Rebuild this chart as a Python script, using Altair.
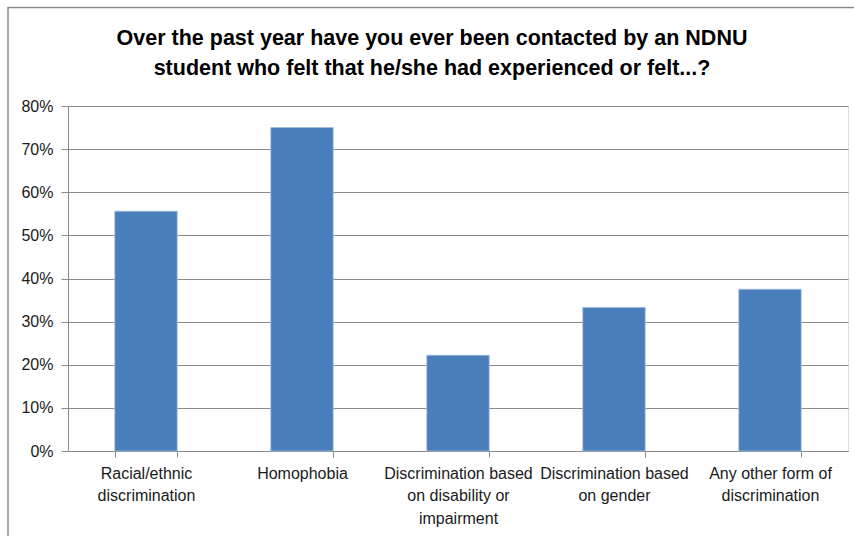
import altair as alt
import pandas as pd

# Survey responses: share of respondents contacted about each issue
categories = [
    "Racial/ethnic discrimination",
    "Homophobia",
    "Discrimination based on disability or impairment",
    "Discrimination based on gender",
    "Any other form of discrimination",
]
label_lines = [
    ["Racial/ethnic", "discrimination"],
    ["Homophobia"],
    ["Discrimination based", "on disability or", "impairment"],
    ["Discrimination based", "on gender"],
    ["Any other form of", "discrimination"],
]
shares = [0.556, 0.75, 0.222, 0.333, 0.375]
y_ticks = [0, 0.1, 0.2, 0.3, 0.4, 0.5, 0.6, 0.7, 0.8]

title_lines = [
    "Over the past year have you ever been contacted by an NDNU",
    "student who felt that he/she had experienced or felt...?",
]

df = pd.DataFrame({"category": categories, "share": shares})

# Wrap the long category names onto several lines
label_expr = ""
for cat, lines in zip(categories, label_lines):
    arr = "[" + ",".join("'" + l + "'" for l in lines) + "]"
    label_expr += f"datum.label == '{cat}' ? {arr} : "
label_expr += "datum.label"

FONT = "Liberation Sans"
GRID = "#8a8a8a"

bars = alt.Chart(df).mark_bar(
    color="#4a7ebb", stroke="#9dbbe0", strokeWidth=0.8
).encode(
    x=alt.X(
        "category:N",
        sort=categories,
        title=None,
        scale=alt.Scale(paddingInner=0.6, paddingOuter=0.3),
        axis=alt.Axis(
            labelAngle=0,
            labelExpr=label_expr,
            labelFont=FONT,
            labelFontSize=16,
            labelColor="#1a1a1a",
            labelLineHeight=22.5,
            labelPadding=8,
            labelBaseline="top",
            labelLimit=200,
            tickBand="extent",
            tickColor=GRID,
            tickSize=6,
            domainColor=GRID,
            grid=False,
        ),
    ),
    y=alt.Y(
        "share:Q",
        title=None,
        scale=alt.Scale(domain=[0, 0.8], nice=False),
        axis=alt.Axis(
            values=y_ticks,
            format=".0%",
            labelFont=FONT,
            labelFontSize=16,
            labelColor="#1a1a1a",
            labelPadding=8,
            tickColor=GRID,
            tickSize=7,
            domainColor=GRID,
            gridColor=GRID,
            gridWidth=1,
        ),
    ),
)

# Outer chart frame
frame = alt.Chart(alt.Data(values=[{}])).mark_rect(
    fill=None, stroke="#8c8c8c", strokeWidth=1.5
).encode(
    x=alt.value(-60),
    x2=alt.value(800),
    y=alt.value(-98.5),
    y2=alt.value(440),
)

chart = alt.layer(frame, bars).properties(
    width=780,
    height=345,
    title=alt.TitleParams(
        text=title_lines,
        font=FONT,
        fontSize=21.5,
        fontWeight="bold",
        color="#000000",
        anchor="middle",
        dx=-26,
        dy=73,
        offset=0,
        lineHeight=30.5,
    ),
    autosize=alt.AutoSizeParams(type="none"),
    padding={"left": 68, "top": 106, "right": 6, "bottom": 85},
).configure_view(stroke=None).configure(background="white")

chart.save("out.html", embed_options={"renderer": "svg", "actions": False})
